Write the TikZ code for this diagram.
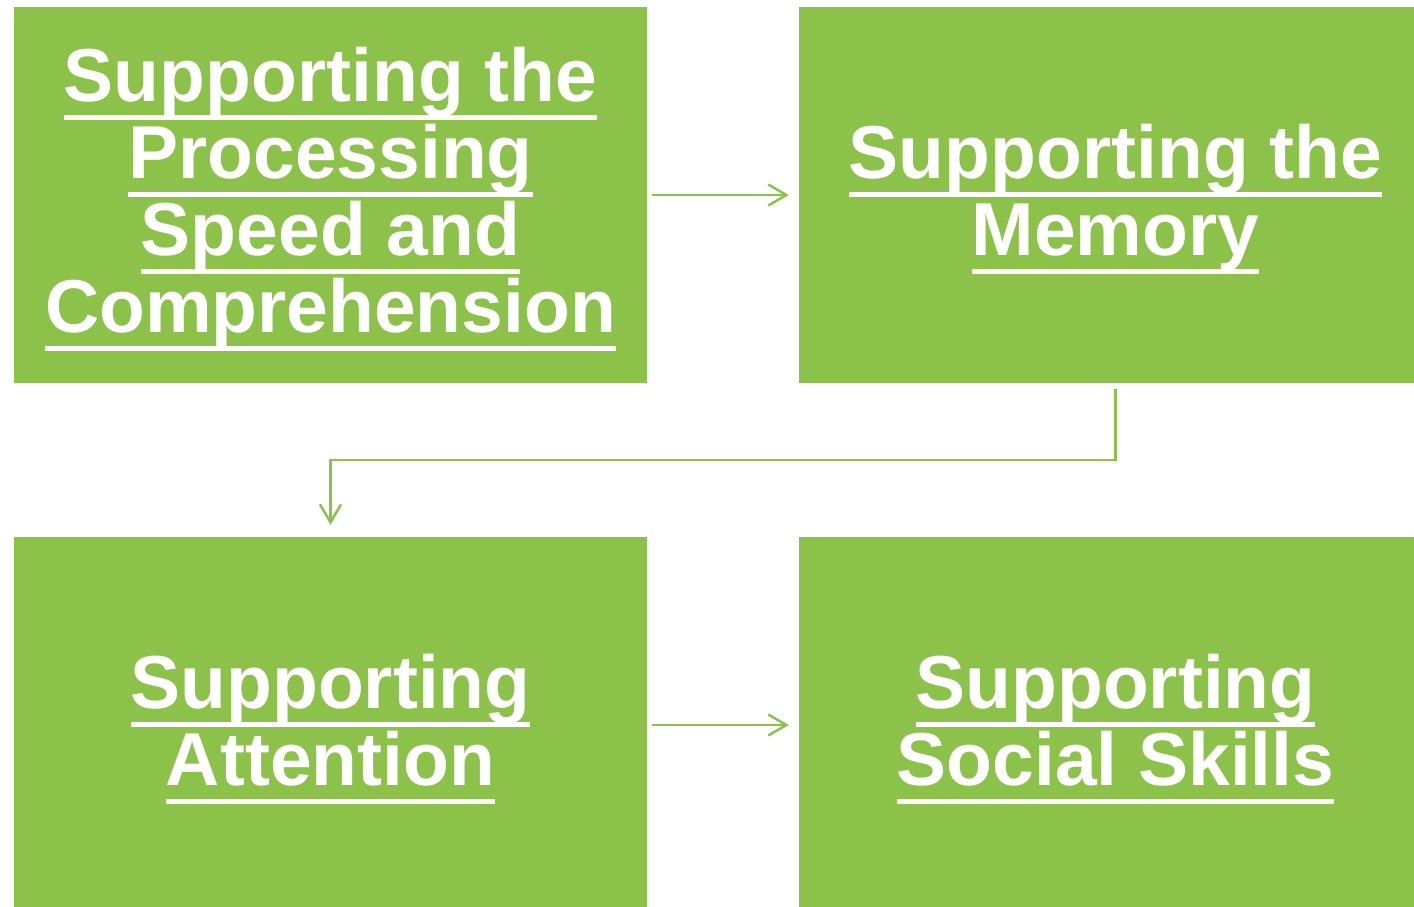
\documentclass[tikz,border=0pt]{standalone}
\usepackage{fontspec}
\setmainfont{Liberation Sans}
\usetikzlibrary{arrows.meta}
\definecolor{boxgreen}{RGB}{140,194,74}
\newsavebox\ulinebox
\newcommand\lineul[1]{\sbox\ulinebox{#1}\leavevmode\rlap{\vrule height -13pt depth 18pt width \wd\ulinebox}\usebox\ulinebox}
\tikzset{
  stepbox/.style={fill=boxgreen, draw=none, minimum width=633pt, minimum height=376pt,
    inner sep=0pt},
  steptext/.style={inner sep=0pt, align=center, text=white, yshift=-4pt,
    font=\fontsize{75pt}{77pt}\selectfont\bfseries},
  link/.style={draw=boxgreen, line width=2.5pt,
    -{Straight Barb[length=18pt,width=21pt,line width=2.5pt]}}
}
\begin{document}
\begin{tikzpicture}[x=1pt,y=-1pt]
\useasboundingbox (0,0) rectangle (1414,907);
\clip (0,0) rectangle (1414,907);
\node[stepbox] (tl) at (330.5,195) {};
\node[stepbox] (tr) at (1115.5,195) {};
\node[stepbox] (bl) at (330.5,725) {};
\node[stepbox] (br) at (1115.5,725) {};
\node[steptext] (tlt) at (tl) {\lineul{Supporting the}\\\lineul{Processing}\\\lineul{Speed and}\\\lineul{Comprehension}};
\node[steptext] (trt) at (tr) {\lineul{Supporting the}\\\lineul{Memory}};
\node[steptext] (blt) at (bl) {\lineul{Supporting}\\\lineul{Attention}};
\node[steptext] (brt) at (br) {\lineul{Supporting}\\\lineul{Social Skills}};
\draw[link, shorten <=5pt, shorten >=10pt] (tl.east) -- (tr.west);
\draw[link, shorten <=5pt, shorten >=10pt] (bl.east) -- (br.west);
\draw[link, shorten <=6pt, shorten >=12pt] (tr.south) -- ++(0,77) -| (bl.north);
\end{tikzpicture}
\end{document}
